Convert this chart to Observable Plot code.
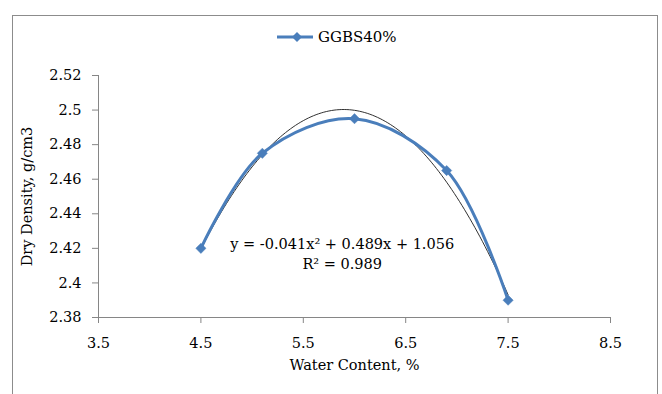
<!DOCTYPE html>
<html>
<head>
<meta charset="utf-8">
<script src="https://cdn.jsdelivr.net/npm/d3@7"></script>
<script src="https://cdn.jsdelivr.net/npm/@observablehq/plot@0.6"></script>
<style>
  html, body { margin: 0; padding: 0; background: #fff; }
  #wrap { position: relative; width: 662px; height: 394px; overflow: hidden; font-family: "DejaVu Serif", serif; }
  #border { position: absolute; left: 12px; top: 15px; width: 646px; height: 400px; border: 1px solid #8c8c8c; box-sizing: border-box; pointer-events: none; }
  #legend { position: absolute; left: 277px; top: 28px; display: flex; align-items: center; font-size: 15px; color: #000; }
  #legend svg { display: block; margin-right: 4px; }
  #chart { position: absolute; left: 0; top: 0; }
</style>
</head>
<body>
<div id="wrap">
  <div id="chart"></div>
  <div id="border"></div>
  <div id="legend"></div>
</div>
<script>
const seriesName = "GGBS40%";
const waterContent = [4.5, 5.1, 6.0, 6.9, 7.5];
const dryDensity = [2.42, 2.475, 2.495, 2.465, 2.39];
const xTicks = [3.5, 4.5, 5.5, 6.5, 7.5, 8.5];
const xTickLabels = ["3.5", "4.5", "5.5", "6.5", "7.5", "8.5"];
const yTicks = [2.38, 2.4, 2.42, 2.44, 2.46, 2.48, 2.5, 2.52];
const yTickLabels = ["2.38", "2.4", "2.42", "2.44", "2.46", "2.48", "2.5", "2.52"];
const equationLines = ["y = -0.041x² + 0.489x + 1.056", "R² = 0.989"];
const xLabel = "Water Content, %";
const yLabel = "Dry Density, g/cm3";

const data = waterContent.map((x, i) => ({x, y: dryDensity[i]}));

// Quadratic least-squares trendline fitted to the data (as the spreadsheet does)
function quadFit(xs, ys) {
  const n = xs.length;
  let s = [0,0,0,0,0], t = [0,0,0];
  for (let i = 0; i < n; i++) {
    const x = xs[i], y = ys[i];
    for (let k = 0; k < 5; k++) s[k] += Math.pow(x, k);
    for (let k = 0; k < 3; k++) t[k] += Math.pow(x, k) * y;
  }
  const A = [[s[0], s[1], s[2], t[0]], [s[1], s[2], s[3], t[1]], [s[2], s[3], s[4], t[2]]];
  for (let i = 0; i < 3; i++) {
    let p = i;
    for (let r = i + 1; r < 3; r++) if (Math.abs(A[r][i]) > Math.abs(A[p][i])) p = r;
    [A[i], A[p]] = [A[p], A[i]];
    for (let r = 0; r < 3; r++) if (r !== i) {
      const f = A[r][i] / A[i][i];
      for (let c = i; c < 4; c++) A[r][c] -= f * A[i][c];
    }
  }
  return [A[0][3] / A[0][0], A[1][3] / A[1][1], A[2][3] / A[2][2]];
}
const [c0, c1, c2] = quadFit(waterContent, dryDensity);
const xMin = d3.min(waterContent), xMax = d3.max(waterContent);
const trend = d3.range(0, 121).map(i => {
  const x = xMin + (xMax - xMin) * i / 120;
  return {x, y: c0 + c1 * x + c2 * x * x};
});

const blue = "#4a7ebb";
const grey = "#868686";

const chart = Plot.plot({
  width: 662,
  height: 394,
  marginLeft: 98,
  marginRight: 52,
  marginTop: 75,
  marginBottom: 77,
  style: { fontFamily: "DejaVu Serif, serif", fontSize: "14.5px", color: "#000", background: "transparent" },
  x: { domain: [3.5, 8.5] },
  y: { domain: [2.38, 2.52] },
  marks: [
    Plot.axisX({ ticks: xTicks, tickFormat: d => xTickLabels[xTicks.indexOf(d)], tickSize: 6, tickPadding: 14, stroke: grey, label: null }),
    Plot.axisY({ ticks: yTicks, tickFormat: d => yTickLabels[yTicks.indexOf(d)], tickSize: 6, tickPadding: 11, stroke: grey, label: null }),
    Plot.ruleY([2.38], { stroke: grey }),
    Plot.ruleX([3.5], { stroke: grey }),
    Plot.line(trend, { x: "x", y: "y", stroke: "#1a1a1a", strokeWidth: 0.9 }),
    Plot.line(data, { x: "x", y: "y", stroke: blue, strokeWidth: 3, curve: "catmull-rom" }),
    Plot.dot(data, { x: "x", y: "y", symbol: "diamond2", r: 4.6, fill: blue, stroke: blue, strokeWidth: 0.5 }),
    Plot.text([equationLines.join("\n")], { x: 5.88, y: 2.4178, text: d => d, fontSize: 14.5, lineHeight: 1.38, textAnchor: "middle", fill: "#000" }),
    Plot.text([xLabel], { frameAnchor: "bottom", dy: 52, text: d => d, fontSize: 14.5, fill: "#000" }),
    Plot.text([yLabel], { frameAnchor: "left", dx: -71, rotate: -90, textAnchor: "middle", text: d => d, fontSize: 14.5, fill: "#000" })
  ]
});
document.getElementById("chart").appendChild(chart);

// Legend
const lg = document.getElementById("legend");
lg.innerHTML = `<svg width="37" height="14"><line x1="0" y1="7" x2="36" y2="7" stroke="${blue}" stroke-width="3"/><path d="M20,2 L25,7 L20,12 L15,7 Z" fill="${blue}"/></svg><span>${seriesName}</span>`;
</script>
</body>
</html>
